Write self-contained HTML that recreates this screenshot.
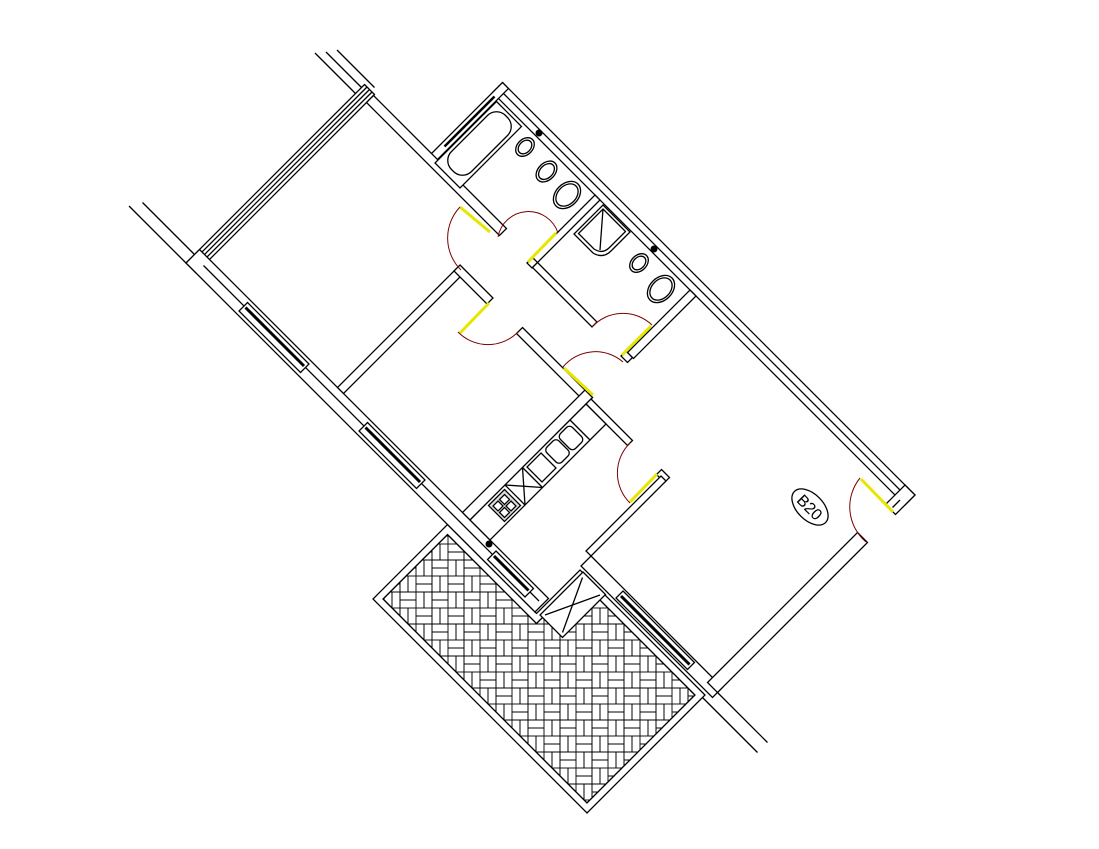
<!DOCTYPE html>
<html><head><meta charset="utf-8"><style>html,body{margin:0;padding:0;background:#fff}svg{display:block}</style></head>
<body>
<svg width="1099" height="849" viewBox="0 0 1099 849" xmlns="http://www.w3.org/2000/svg">
<defs>
<pattern id="t" width="32" height="32" patternUnits="userSpaceOnUse">
<g fill="none" stroke="#000" stroke-width="0.9">
<rect x="0" y="0" width="16" height="8"/><rect x="0" y="8" width="16" height="8"/>
<rect x="16" y="0" width="8" height="16"/><rect x="24" y="0" width="8" height="16"/>
<rect x="0" y="16" width="8" height="16"/><rect x="8" y="16" width="8" height="16"/>
<rect x="16" y="16" width="16" height="8"/><rect x="16" y="24" width="16" height="8"/>
</g></pattern>
<clipPath id="tc"><polygon points="447.5,534.5 536.5,623.5 580,580 695,695 587,803 383,599"/></clipPath>
</defs>
<rect width="1099" height="849" fill="#fff"/>
<polygon points="447.5,524.5 536.5,613.5 580,570 705,695 587,813 373,599" fill="#fff" stroke="#000" stroke-width="1.3"/>
<polygon points="447.5,534.5 536.5,623.5 580,580 695,695 587,803 383,599" fill="url(#t)" stroke="#000" stroke-width="1.3" clip-path="url(#tc)"/>
<polygon points="447.5,534.5 536.5,623.5 580,580 695,695 587,803 383,599" fill="none" stroke="#000" stroke-width="1.3"/>

<g transform="matrix(0.5,0.5,-0.5,0.5,0,0)" fill="#fff" stroke="#000" stroke-width="1.3">
<g>
<line x1="335" y1="77" x2="449" y2="77" vector-effect="non-scaling-stroke"/>
<line x1="345" y1="60" x2="449" y2="60" vector-effect="non-scaling-stroke"/>
<line x1="368" y1="-262" x2="449" y2="-262" vector-effect="non-scaling-stroke"/>
<line x1="378" y1="-274" x2="449" y2="-274" vector-effect="non-scaling-stroke"/>
<line x1="387" y1="-287" x2="462" y2="-287" vector-effect="non-scaling-stroke"/>
<line x1="1410" y1="-25" x2="1510" y2="-25" vector-effect="non-scaling-stroke"/>
<line x1="1400" y1="-5" x2="1510" y2="-5" vector-effect="non-scaling-stroke"/>
<rect x="449" y="-280" width="20" height="357" vector-effect="non-scaling-stroke"/>
<line x1="454" y1="-280" x2="454" y2="77" vector-effect="non-scaling-stroke"/>
<line x1="459" y1="-280" x2="459" y2="77" vector-effect="non-scaling-stroke"/>
<line x1="464" y1="-280" x2="464" y2="70" vector-effect="non-scaling-stroke"/>
<rect x="449" y="50" width="698" height="27" vector-effect="non-scaling-stroke"/>
<line x1="469" y1="62" x2="1140" y2="62" vector-effect="non-scaling-stroke"/>
<rect x="550" y="55" width="123" height="17" vector-effect="non-scaling-stroke"/>
<line x1="553" y1="62" x2="670" y2="62" stroke-width="3" vector-effect="non-scaling-stroke"/>
<rect x="790" y="55" width="115" height="17" vector-effect="non-scaling-stroke"/>
<line x1="793" y1="62" x2="902" y2="62" stroke-width="3" vector-effect="non-scaling-stroke"/>
<rect x="1047" y="55" width="75" height="17" vector-effect="non-scaling-stroke"/>
<line x1="1050" y1="62" x2="1119" y2="62" stroke-width="3" vector-effect="non-scaling-stroke"/>
<rect x="1147" y="-35" width="263" height="20" vector-effect="non-scaling-stroke"/>
<rect x="1214" y="-32" width="143" height="14" vector-effect="non-scaling-stroke"/>
<line x1="1217" y1="-25" x2="1354" y2="-25" stroke-width="3" vector-effect="non-scaling-stroke"/>
<rect x="1155" y="-11" width="45" height="86" vector-effect="non-scaling-stroke"/>
<line x1="1160" y1="-5" x2="1195" y2="70" vector-effect="non-scaling-stroke"/>
<line x1="1195" y1="-5" x2="1160" y2="70" vector-effect="non-scaling-stroke"/>
<rect x="585" y="-420" width="825" height="20" vector-effect="non-scaling-stroke"/>
<line x1="597" y1="-410" x2="1400" y2="-410" vector-effect="non-scaling-stroke"/>
<rect x="585" y="-420" width="12" height="145" vector-effect="non-scaling-stroke"/>
<line x1="591" y1="-398" x2="591" y2="-298" stroke-width="2.5" vector-effect="non-scaling-stroke"/>
<rect x="469" y="-278" width="266" height="14" vector-effect="non-scaling-stroke"/>
<rect x="790" y="-278" width="10" height="14" vector-effect="non-scaling-stroke"/>
<rect x="790" y="-400" width="10" height="125" vector-effect="non-scaling-stroke"/>
<rect x="800" y="-275" width="119" height="10" vector-effect="non-scaling-stroke"/>
<rect x="977" y="-275" width="13" height="10" vector-effect="non-scaling-stroke"/>
<rect x="980" y="-400" width="12" height="125" vector-effect="non-scaling-stroke"/>
<rect x="725" y="-190" width="12" height="240" vector-effect="non-scaling-stroke"/>
<rect x="725" y="-195" width="66" height="12" vector-effect="non-scaling-stroke"/>
<rect x="850" y="-195" width="140" height="12" vector-effect="non-scaling-stroke"/>
<rect x="975" y="-195" width="15" height="245" vector-effect="non-scaling-stroke"/>
<rect x="990" y="-192" width="83" height="10" vector-effect="non-scaling-stroke"/>
<rect x="1131" y="-192" width="16" height="10" vector-effect="non-scaling-stroke"/>
<rect x="1137" y="-185" width="10" height="150" vector-effect="non-scaling-stroke"/>
<rect x="1390" y="-420" width="20" height="39" vector-effect="non-scaling-stroke"/>
<rect x="1390" y="-325" width="20" height="300" vector-effect="non-scaling-stroke"/>
<line x1="1400" y1="-400" x2="1400" y2="-385" vector-effect="non-scaling-stroke"/>
<rect x="598" y="-395" width="50" height="123" vector-effect="non-scaling-stroke"/>
<rect x="603" y="-390" width="40" height="108" rx="18" vector-effect="non-scaling-stroke"/>
<ellipse cx="672" cy="-378" rx="11" ry="15" vector-effect="non-scaling-stroke"/>
<ellipse cx="672" cy="-378" rx="8" ry="11" vector-effect="non-scaling-stroke"/>
<ellipse cx="718" cy="-375" rx="12" ry="17" vector-effect="non-scaling-stroke"/>
<ellipse cx="718" cy="-375" rx="9" ry="13" vector-effect="non-scaling-stroke"/>
<ellipse cx="762" cy="-372" rx="16" ry="22" vector-effect="non-scaling-stroke"/>
<ellipse cx="762" cy="-372" rx="13" ry="18" vector-effect="non-scaling-stroke"/>
<path d="M808 -398 L862 -398 L862 -360 Q862 -344 846 -340 L808 -340 Z" vector-effect="non-scaling-stroke"/>
<path d="M812 -394 L857 -394 L857 -362 Q857 -348 843 -345 L812 -345 Z" vector-effect="non-scaling-stroke"/>
<line x1="812" y1="-394" x2="850" y2="-350" vector-effect="non-scaling-stroke"/>
<ellipse cx="902" cy="-376" rx="11" ry="15" vector-effect="non-scaling-stroke"/>
<ellipse cx="902" cy="-376" rx="8" ry="11" vector-effect="non-scaling-stroke"/>
<ellipse cx="950" cy="-372" rx="16" ry="22" vector-effect="non-scaling-stroke"/>
<ellipse cx="950" cy="-372" rx="13" ry="18" vector-effect="non-scaling-stroke"/>
<rect x="990" y="-182" width="40" height="232" vector-effect="non-scaling-stroke"/>
<line x1="990" y1="-150" x2="1030" y2="-150" vector-effect="non-scaling-stroke"/>
<rect x="994" y="-145" width="30" height="24" rx="6" vector-effect="non-scaling-stroke"/>
<rect x="994" y="-118" width="30" height="24" rx="6" vector-effect="non-scaling-stroke"/>
<rect x="994" y="-88" width="30" height="28" fill="none" vector-effect="non-scaling-stroke"/>
<line x1="990" y1="-55" x2="1030" y2="-55" vector-effect="non-scaling-stroke"/>
<line x1="990" y1="-55" x2="1030" y2="-20" vector-effect="non-scaling-stroke"/>
<line x1="1030" y1="-55" x2="990" y2="-20" vector-effect="non-scaling-stroke"/>
<line x1="990" y1="-20" x2="1030" y2="-20" vector-effect="non-scaling-stroke"/>
<rect x="994" y="-15" width="32" height="32" fill="#ddd" vector-effect="non-scaling-stroke"/>
<rect x="999" y="-10" width="10" height="10" vector-effect="non-scaling-stroke"/>
<rect x="1012" y="-10" width="10" height="10" vector-effect="non-scaling-stroke"/>
<rect x="999" y="3" width="10" height="10" vector-effect="non-scaling-stroke"/>
<rect x="1012" y="3" width="10" height="10" vector-effect="non-scaling-stroke"/>
</g>
</g>

<circle cx="539" cy="133" r="3.5" fill="#000"/>
<circle cx="654" cy="249" r="3.5" fill="#000"/>
<circle cx="489" cy="544" r="3.5" fill="#000"/>

<g stroke="#e6e600" stroke-width="3" fill="none">
<line x1="460" y1="207" x2="490" y2="232"/>
<line x1="528" y1="262" x2="556" y2="233"/>
<line x1="460" y1="333" x2="489" y2="303"/>
<line x1="622" y1="355" x2="651" y2="326"/>
<line x1="564" y1="368" x2="593" y2="395"/>
<line x1="630" y1="502" x2="657" y2="474"/>
<line x1="861" y1="479" x2="893" y2="512"/>
</g>
<g stroke="#7a0000" stroke-width="1" fill="none">
<path d="M460 207 A45 45 0 0 0 461 270"/>
<path d="M498 237 A31 31 0 0 1 558 233"/>
<path d="M458 332 A42 42 0 0 0 518 332"/>
<path d="M592 327 A42 42 0 0 1 652 325"/>
<path d="M563 367 A42 42 0 0 1 623 362"/>
<path d="M630 503 A42 42 0 0 1 630 443"/>
<path d="M860 478 A46 46 0 0 0 866 542"/>
</g>
<g transform="translate(810,507) rotate(45)">
<ellipse cx="0" cy="0" rx="22" ry="13" fill="#fff" stroke="#000" stroke-width="1.3"/>
<text x="0" y="6" text-anchor="middle" font-family="Liberation Sans, sans-serif" font-size="16">B20</text>
</g>
</svg>
</body></html>
